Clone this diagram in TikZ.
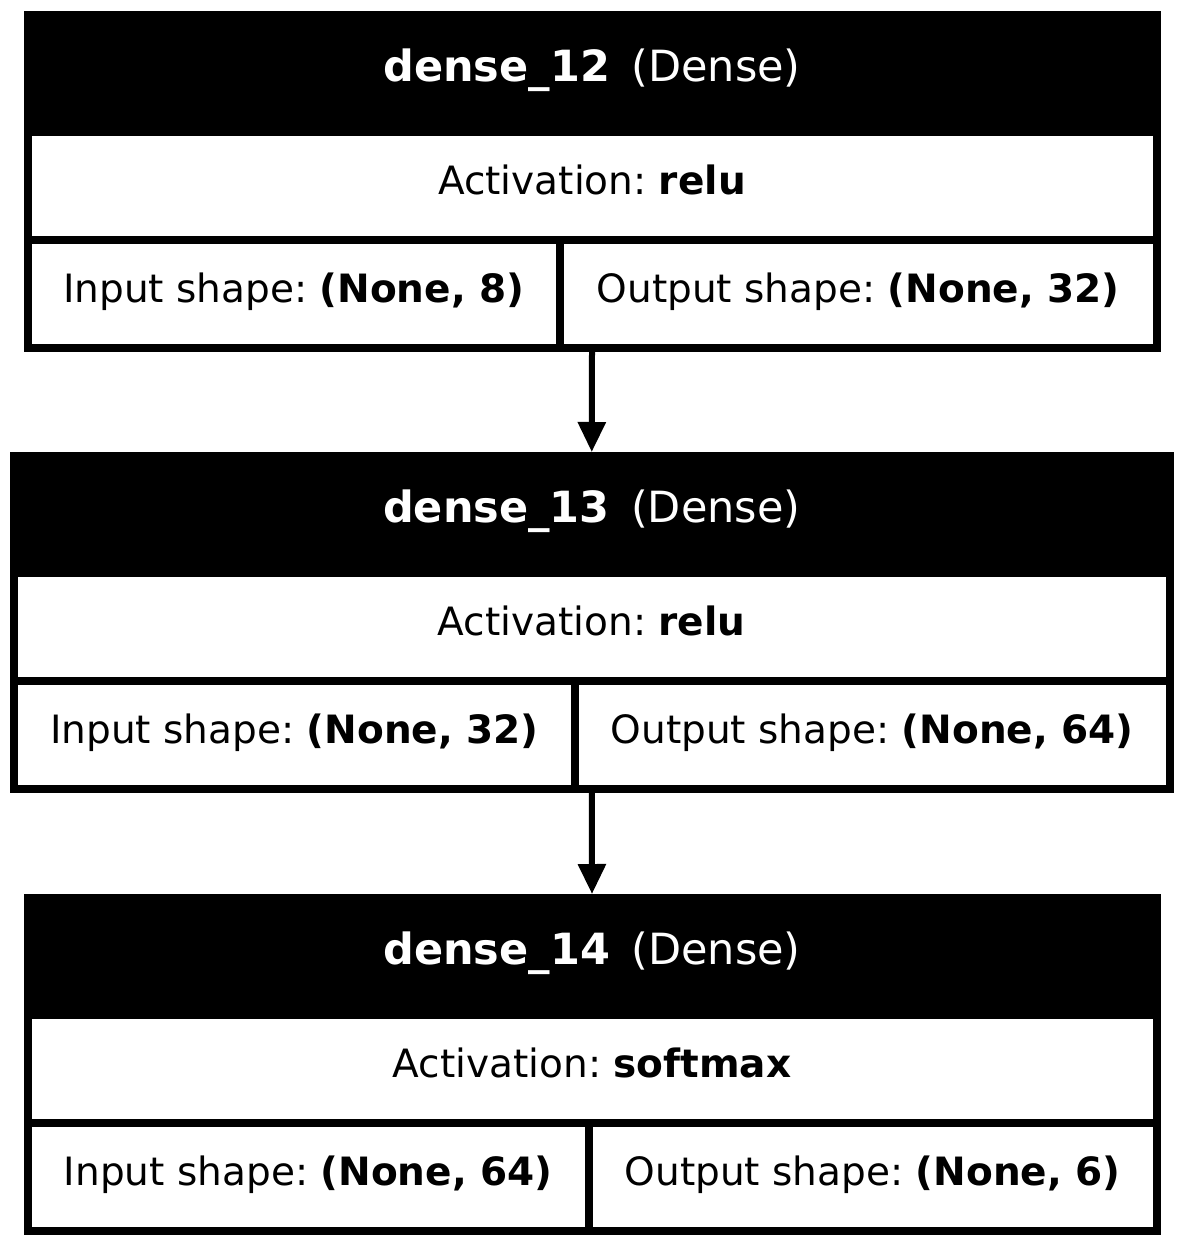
\documentclass[tikz,border=0pt]{standalone}
\usepackage{fontspec}
\setmainfont{DejaVu Sans}
\usetikzlibrary{arrows.meta}
\frenchspacing

\tikzset{
    layer/.style={draw, line width=8pt, inner sep=0pt},
    cell/.style={draw, line width=8pt, inner sep=0pt, outer sep=0pt, minimum height=108pt,
        text height=16pt, text depth=0pt, font=\fontsize{39}{47}\selectfont},
    head/.style={cell, fill=black, text=white, minimum height=117pt,
        font=\fontsize{43}{52}\selectfont},
    flow/.style={line width=6pt, -{Triangle[length=30pt,width=27pt]}}
}

\begin{document}
\begin{tikzpicture}[x=1pt,y=-1pt]
    \useasboundingbox (0,0) rectangle (1183,1247);

    \node[layer, minimum width=1129pt, minimum height=333pt] (l1) at (592,181.5) {};
    \node[head, minimum width=1129pt] (h1) at (592,73.5) {\textbf{dense\_12}\hspace{.5em}(Dense)};
    \node[cell, minimum width=1129pt] (a1) at (592,186) {Activation: \textbf{relu}};
    \node[cell, minimum width=532.5pt] (i1) at (293.75,294) {Input shape: \textbf{(None, 8)}};
    \node[cell, minimum width=596.5pt] (o1) at (858.25,294) {Output shape: \textbf{(None, 32)}};

    \node[layer, minimum width=1155.5pt, minimum height=333pt] (l2) at (591.75,622.5) {};
    \node[head, minimum width=1155.5pt] (h2) at (591.75,514.5) {\textbf{dense\_13}\hspace{.5em}(Dense)};
    \node[cell, minimum width=1155.5pt] (a2) at (591.75,627) {Activation: \textbf{relu}};
    \node[cell, minimum width=561pt] (i2) at (294.5,735) {Input shape: \textbf{(None, 32)}};
    \node[cell, minimum width=594.5pt] (o2) at (872.25,735) {Output shape: \textbf{(None, 64)}};

    \node[layer, minimum width=1129pt, minimum height=333pt] (l3) at (592,1064.5) {};
    \node[head, minimum width=1129pt] (h3) at (592,956.5) {\textbf{dense\_14}\hspace{.5em}(Dense)};
    \node[cell, minimum width=1129pt] (a3) at (592,1069) {Activation: \textbf{softmax}};
    \node[cell, minimum width=561.5pt] (i3) at (308.25,1177) {Input shape: \textbf{(None, 64)}};
    \node[cell, minimum width=567.5pt] (o3) at (872.75,1177) {Output shape: \textbf{(None, 6)}};

    \draw[flow] (l1.south) -- (l2.north);
    \draw[flow] (l2.south) -- (l3.north);
\end{tikzpicture}
\end{document}
